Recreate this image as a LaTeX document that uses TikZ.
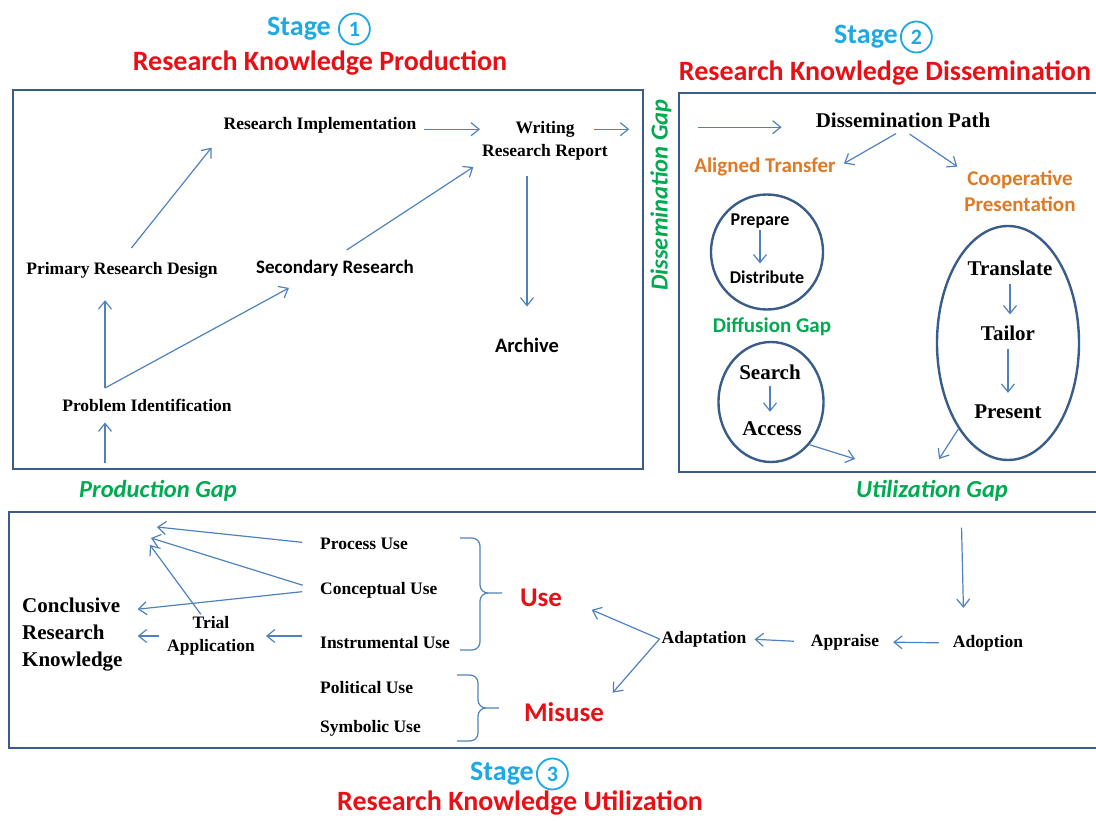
\documentclass[tikz,border=0pt]{standalone}
\usepackage{fontspec}
\setmainfont{Liberation Serif}
\newfontfamily\calibri{Carlito}
\usetikzlibrary{arrows.meta,positioning,shapes.geometric}

\definecolor{stageblue}{RGB}{28,169,228}
\definecolor{titlered}{RGB}{232,16,22}
\definecolor{gapgreen}{RGB}{0,170,80}
\definecolor{pathorange}{RGB}{222,122,38}
\definecolor{panelblue}{RGB}{56,93,138}
\definecolor{linkblue}{RGB}{79,129,189}

\begin{document}
\begin{tikzpicture}[x=1pt,y=-1pt,>={Straight Barb[length=8pt,width=13pt]},
        link/.style={->,draw=linkblue,line width=1.2pt},
        panel/.style={draw=panelblue,line width=2.4pt},
        oval/.style={draw=panelblue,line width=2.4pt,ellipse,inner sep=0pt},
        brc/.style={draw=linkblue,line width=1.2pt},
        lab/.style={font=\bfseries\fontsize{17.5}{23}\selectfont,inner sep=2pt},
        big/.style={font=\bfseries\fontsize{21}{27}\selectfont,inner sep=2pt},
        sans/.style={font=\calibri\bfseries\fontsize{19}{24}\selectfont,inner sep=2pt},
        sml/.style={font=\calibri\bfseries\fontsize{18}{22}\selectfont,inner sep=2pt},
        orng/.style={font=\calibri\bfseries\fontsize{21}{26}\selectfont,text=pathorange,inner sep=2pt},
        gapi/.style={font=\calibri\bfseries\itshape\fontsize{24.5}{28}\selectfont,text=gapgreen,inner sep=2pt},
        gapb/.style={font=\calibri\bfseries\fontsize{21}{26}\selectfont,text=gapgreen,inner sep=2pt},
        headline/.style={font=\calibri\bfseries\fontsize{28}{32}\selectfont,text=titlered,inner sep=0pt},
        stagetxt/.style={font=\calibri\bfseries\fontsize{28}{32}\selectfont,text=stageblue,inner sep=0pt},
        stagenum/.style={circle,draw=stageblue,line width=1.8pt,minimum size=31pt,inner sep=0pt,
            font=\calibri\bfseries\fontsize{22}{22}\selectfont,text=stageblue},
        verdict/.style={font=\calibri\bfseries\fontsize{27}{30}\selectfont,text=titlered,inner sep=2pt}]

  \useasboundingbox (0,0) rectangle (1096,821);

  % headings
  \node[stagetxt] (s_1) at (299,29) {Stage};
  \node[stagenum] (n_1) [right=7pt of s_1] {1};
  \node[headline] (t_1) at (320,63) {Research Knowledge Production};
  \node[stagetxt] (s_2) at (866,37) {Stage};
  \node[stagenum] (n_2) [right=2pt of s_2] {2};
  \node[headline] (t_2) at (885,73) {Research Knowledge Dissemination};
  \node[stagetxt] (s_3) at (502,774) {Stage};
  \node[stagenum] (n_3) [right=2pt of s_3] {3};
  \node[headline] (t_3) at (520,803) {Research Knowledge Utilization};

  \draw[panel] (13,90) rectangle (643,469);
  \draw[panel] (679,93) rectangle (1099,472);
  \draw[panel] (9,512) rectangle (1099,748);

  % production
  \node[lab] (impl) at (320,125) {Research Implementation};
  \node[lab,align=center] (writ) at (545,141) {Writing\\Research Report};
  \node[lab] (prim) at (122,270) {Primary Research Design};
  \node[sans] (sec) at (335,268) {Secondary Research};
  \node[sans,font=\calibri\bfseries\fontsize{20.5}{24}\selectfont] (arch) at (527,345) {Archive};
  \node[lab] (prob) at (147,405) {Problem Identification};
  \node[gapi] (pgap) at (158,491) {Production Gap};
  \coordinate (fork) at (105,388);

  \path (impl.base east) edge[link,shorten <=5pt] (impl.base east -| writ.west)
        (prim.north) edge[link,shorten <=15pt,shorten >=16pt] (impl.south west)
        (sec.north) edge[link,shorten <=14pt,shorten >=8pt] (writ.south west)
        (writ.south -| arch) edge[link,shorten <=13pt,shorten >=29pt] (arch.north)
        (fork) edge[link,shorten >=20pt] (fork |- prim.south)
        (fork) edge[link,shorten >=20pt] (sec.200)
        (fork |- pgap.north) edge[link,shorten <=15pt,shorten >=9pt] (fork |- prob.south);

  % dissemination
  \node[gapi,rotate=90] (dgap) at (661,195) {Dissemination Gap};
  \node[big] (dpath) at (903,120) {Dissemination Path};
  \node[orng] (algn) at (765,167) {Aligned Transfer};
  \node[orng,align=center] (coop) at (1020,191) {Cooperative\\Presentation};

  \path (impl.base east -| writ) edge[link,shorten <=49pt,shorten >=19pt] (impl.base east -| dgap.north)
        (dgap.south |- dpath.base west) edge[link,shorten <=24pt,shorten >=32pt] (dpath.base west)
        (dpath.south) edge[link,shorten <=8pt,shorten >=7pt] (algn.east)
        (dpath.south) edge[link,shorten <=8pt,shorten >=6pt] (coop.160);

  \node[oval,minimum width=112pt,minimum height=115pt] (ringA) at (767,252) {};
  \node[sml] (prep) at (760,221) {Prepare};
  \node[sml] (dist) at (767,277) {Distribute};
  \node[gapb] (dif) at (772,327) {Diffusion Gap};
  \node[oval,minimum width=105pt,minimum height=120pt] (ringB) at (771,402) {};
  \node[big] (srch) at (770,372) {Search};
  \node[big] (acc) at (772,429) {Access};
  \node[oval,minimum width=142pt,minimum height=234pt] (ringC) at (1008,343) {};
  \node[big] (trans) at (1010,268) {Translate};
  \node[big] (tail) at (1008,333) {Tailor};
  \node[big] (pres) at (1008,412) {Present};
  \node[gapi] (ugap) at (932,491) {Utilization Gap};
  \coordinate (u_1) at (855,459);
  \coordinate (u_2) at (939,459);

  \path (prep.south) edge[link,shorten >=5pt] (prep.south |- dist.north)
        (srch.south) edge[link,shorten <=4pt,shorten >=8pt] (srch.south |- acc.north)
        (trans.south) edge[link,shorten <=6pt,shorten >=9pt] (trans.south |- tail.north)
        (tail.south) edge[link,shorten <=6pt,shorten >=10pt] (tail.south |- pres.north)
        (ringB.-48) edge[link] (u_1)
        (ringC.240) edge[link] (u_2);

  % utilization
  \node[lab,anchor=west] (pu) at (318,544) {Process Use};
  \node[lab,anchor=west] (cu) at (318,590) {Conceptual Use};
  \node[lab,anchor=west] (iu) at (318,643) {Instrumental Use};
  \node[lab,anchor=west] (plu) at (318,688) {Political Use};
  \node[lab,anchor=west] (sbu) at (318,728) {Symbolic Use};
  \node[verdict] (use) at (541,598) {Use};
  \node[verdict] (mis) at (564,712) {Misuse};
  \node[big,align=left,anchor=west] (crk) at (20,635) {Conclusive\\Research\\Knowledge};
  \node[lab,align=center] (trial) at (211,636) {Trial\\Application};
  \node[lab] (adopt) at (988,643) {Adoption};
  \node[lab] (appr) at (845,642) {Appraise};
  \node[lab] (adapt) at (704,639) {Adaptation};
  \coordinate (k_1) at (157,527);
  \coordinate (k_2) at (151,538);
  \coordinate (k_3) at (150,545);

  \draw[brc] (460,538) -- (472,538) to[out=0,in=90] (480,546) -- (480,585)
             to[out=-90,in=180] (488,593) -- (502,593) (488,593) to[out=180,in=90] (480,601)
             -- (480,642) to[out=-90,in=0] (472,650) -- (460,650);
  \draw[brc] (457,675) -- (470,675) to[out=0,in=90] (478,683) -- (478,700)
             to[out=-90,in=180] (486,708) -- (499,708) (486,708) to[out=180,in=90] (478,716)
             -- (478,733) to[out=-90,in=0] (470,741) -- (457,741);

  \path (pu.west) edge[link,shorten <=16pt] (k_1)
        (cu.west) edge[link,shorten <=16pt] (k_2)
        (cu.west) edge[link,shorten <=16pt,shorten >=13pt] (crk.25)
        (trial.115) edge[link] (k_3)
        (iu.west |- trial) edge[link,shorten <=16pt,shorten >=9pt] (trial.east)
        (trial.west) edge[link,shorten <=6pt,shorten >=13pt] (crk.east |- trial)
        ([xshift=29pt]ugap.south) edge[link,shorten <=24pt,shorten >=25pt] ([xshift=-24pt]adopt.north)
        (adopt.west) edge[link,shorten <=12pt,shorten >=12pt] (appr.east)
        (appr.west) edge[link,shorten <=15pt,shorten >=6pt] (adapt.east)
        (adapt.west) edge[link,shorten >=30pt] (use.east)
        (adapt.west) edge[link,shorten >=10pt] (mis.north east);

\end{tikzpicture}
\end{document}
